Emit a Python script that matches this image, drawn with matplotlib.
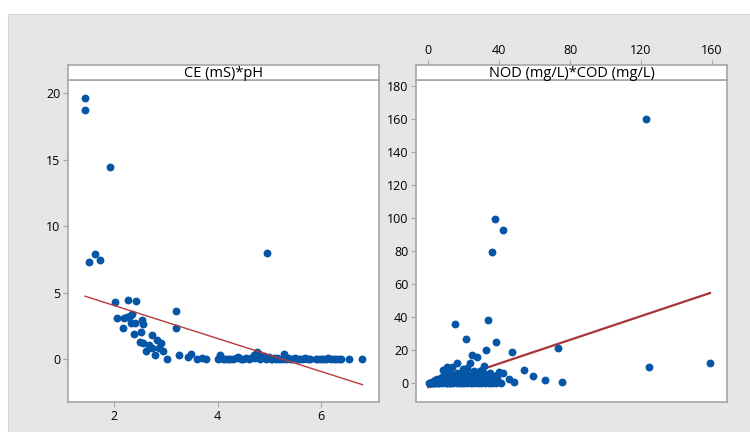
import matplotlib
matplotlib.use("Agg")
from matplotlib import pyplot as plt
from matplotlib.patches import Rectangle
import numpy as np

plt.rcParams['font.family'] = ['Open Sans', 'DejaVu Sans']

# left panel: CE (mS) vs pH
ce_x = [1.43, 1.43, 1.92, 1.51, 1.62, 1.73, 4.96,
        2.01, 2.27, 2.42, 2.05, 2.16, 2.19, 2.24, 2.30, 2.35, 2.32, 2.40, 2.38,
        2.54, 2.56, 2.52, 2.49, 2.55, 2.61, 2.72, 2.67, 2.72, 2.82, 2.90, 2.87,
        2.94, 2.78, 3.02, 3.19, 3.20, 3.26, 3.42, 3.49, 3.60, 3.70, 3.78,
        4.00, 4.03, 4.05, 4.10, 4.15, 4.20, 4.25, 4.30, 4.35, 4.40, 4.45, 4.50,
        4.55, 4.60, 4.65, 4.70, 4.72, 4.76, 4.80, 4.83, 4.86, 4.90, 4.93, 5.00,
        5.03, 5.06, 5.10, 5.13, 5.16, 5.20, 5.25, 5.28, 5.33, 5.36, 5.40, 5.45,
        5.50, 5.55, 5.60, 5.65, 5.70, 5.75, 5.80, 5.90, 5.95, 6.00, 6.05, 6.10,
        6.15, 6.20, 6.25, 6.30, 6.35, 6.40, 6.54, 6.80]
ce_y = [19.67, 18.74, 14.47, 7.33, 7.90, 7.45, 8.00,
        4.28, 4.45, 4.38, 3.15, 2.33, 3.08, 3.20, 3.28, 3.38, 2.75, 2.75, 1.93,
        2.95, 2.65, 2.05, 1.28, 1.25, 0.63, 1.83, 1.08, 0.83, 1.45, 1.20, 0.83,
        0.63, 0.33, 0.03, 2.33, 3.63, 0.30, 0.20, 0.38, 0.00, 0.13, 0.00,
        0.00, 0.10, 0.33, 0.05, 0.00, 0.02, 0.05, 0.00, 0.08, 0.15, 0.02, 0.05,
        0.10, 0.03, 0.08, 0.30, 0.10, 0.58, 0.40, 0.05, 0.15, 0.25, 0.05, 0.15,
        0.05, 0.02, 0.08, 0.03, 0.10, 0.05, 0.02, 0.38, 0.05, 0.10, 0.02, 0.05,
        0.08, 0.03, 0.05, 0.02, 0.08, 0.05, 0.03, 0.05, 0.02, 0.05, 0.03, 0.05,
        0.08, 0.02, 0.05, 0.03, 0.05, 0.02, 0.03, 0.03]
ce_fit_x = [1.43, 6.81]
ce_fit_y = [4.75, -1.90]

# right panel: NOD (mg/L) vs COD (mg/L)
nod_x = [122.8, 37.5, 42.4, 35.8, 15.1, 33.9, 21.1, 38.2, 32.8, 47.1, 73.1,
         54.0, 58.9, 65.9, 75.5, 124.7, 159.1, 24.5, 27.3, 23.5, 16.4, 13.6,
         11.3, 31.6, 29.2, 42.0, 45.8, 48.4, 41.1,
         1, 2, 3, 4, 5, 6, 7, 8, 9, 10, 11, 12, 13, 14, 15, 16, 17, 18, 19, 20,
         21, 22, 23, 24, 25, 26, 27, 28, 29, 30, 31, 32, 33, 34, 35, 36, 37, 38, 39, 40,
         1.5, 2.5, 3.5, 4.5, 5.5, 6.5, 7.5, 8.5, 9.5, 10.5, 12.5, 14.5, 16.5, 18.5,
         20.5, 22.5, 24.5, 26.5, 28.5, 30.5,
         32.5, 34.5, 36.5, 38.5, 8.5, 10.5, 19.5, 22.0, 26.0, 30.5, 36.5, 12.0,
         0.5, 2.0, 4.0, 6.0, 8.0, 10.0, 12.0, 14.0, 16.0, 18.0, 20.0, 22.0,
         24.0, 26.0, 28.0, 30.0, 32.0, 34.0, 36.0, 38.0,
         3.0, 6.0, 9.0, 12.0, 15.0, 18.0, 21.0, 24.0, 27.0, 30.0, 33.0, 36.0,
         5.0, 8.0, 11.0, 14.0, 17.0, 20.0, 23.0, 26.0, 29.0, 32.0]
nod_y = [159.6, 99.6, 92.4, 79.1, 35.7, 38.2, 26.9, 24.7, 19.9, 18.9, 21.5,
         8.2, 4.4, 2.2, 0.6, 9.8, 12.0, 17.1, 15.7, 12.4, 12.4, 10.0,
         8.2, 10.6, 7.6, 6.4, 2.4, 1.0, 0.0,
         0.3, 0.8, 1.5, 2.0, 2.8, 1.2, 3.5, 4.0, 1.8, 5.0, 3.0, 1.2, 5.5, 0.6, 2.5,
         6.5, 1.0, 4.0, 0.3, 7.0,
         2.0, 5.0, 0.5, 3.5, 6.0, 1.0, 4.5, 2.0, 6.0, 0.5, 3.0, 5.5, 1.5, 4.0, 6.5,
         0.8, 3.0, 1.5, 5.0, 7.0,
         0.0, 0.2, 0.4, 0.6, 0.3, 0.5, 2.2, 0.8, 5.0, 0.4, 1.0, 1.5, 2.5, 0.8,
         2.0, 3.5, 1.5, 3.0, 0.8, 2.5,
         4.5, 1.2, 2.0, 3.0, 8.0, 10.0, 8.5, 9.0, 7.5, 8.0, 1.0, 0.2,
         0.0, 0.1, 0.0, 0.2, 0.0, 0.1, 0.0, 0.2, 0.0, 0.1, 0.0, 0.2,
         0.0, 0.1, 0.0, 0.2, 0.0, 0.1, 0.0, 0.2,
         1.0, 2.0, 3.0, 2.5, 4.0, 3.5, 4.5, 3.0, 2.5, 4.0, 2.0, 4.5,
         1.5, 2.5, 2.0, 3.0, 1.5, 3.5, 2.0, 1.5, 3.5, 2.0]
nod_fit_x = [0.0, 159.0]
nod_fit_y = [-2.4, 54.6]

dot_color = '#0556A6'
frame_color = '#A6A6A6'

fig = plt.figure(figsize=(7.5, 4.32), dpi=100)
fig.patches.append(Rectangle((8 / 750, 0), 742 / 750, 418 / 432,
                             transform=fig.transFigure, facecolor='#E6E6E6',
                             edgecolor='#D4D4D4', lw=0.8, zorder=-5))


def make_panel(left, title, xlim, ylim):
    ax = fig.add_axes([left, 30 / 432, 311 / 750, 322 / 432])
    hd = fig.add_axes([left, 352 / 432, 311 / 750, 15 / 432])
    for a in (ax, hd):
        a.set_facecolor('white')
        for s in a.spines.values():
            s.set_color(frame_color)
            s.set_linewidth(1.2)
    ax.set_xlim(xlim)
    ax.set_ylim(ylim)
    hd.set_xlim(xlim)
    hd.set_yticks([])
    hd.set_xticks([])
    hd.text(0.5, 0.42, title, transform=hd.transAxes, ha='center',
            va='center', fontsize=10.5, color='#000000')
    ax.tick_params(direction='out', length=3.5, width=0.8, color=frame_color,
                   labelsize=9, labelcolor='#000000', pad=2)
    hd.tick_params(direction='out', length=3.5, width=0.8, color=frame_color,
                   labelsize=9, labelcolor='#000000', pad=2)
    return ax, hd


ax1, hd1 = make_panel(68 / 750, 'CE (mS)*pH', (1.1, 7.13), (-3.2, 21.0))
ax1.scatter(ce_x, ce_y, s=32, color=dot_color, zorder=2, linewidths=0)
ax1.plot(ce_fit_x, ce_fit_y, color='#B73A3A', lw=1.0, zorder=3)
ax1.set_xticks([2, 4, 6])
ax1.set_yticks([0, 5, 10, 15, 20])

ax2, hd2 = make_panel(416 / 750, 'NOD (mg/L)*COD (mg/L)', (-6.95, 168.6), (-11.3, 183.4))
ax2.plot(nod_fit_x, nod_fit_y, color='#A83434', lw=1.6, zorder=2)
ax2.scatter(nod_x, nod_y, s=32, color=dot_color, zorder=3, linewidths=0)
ax2.set_xticks([])
ax2.set_yticks(range(0, 181, 20))
hd2.xaxis.tick_top()
hd2.set_xticks([0, 40, 80, 120, 160])

fig.savefig('out.png', dpi=100, facecolor='white')
